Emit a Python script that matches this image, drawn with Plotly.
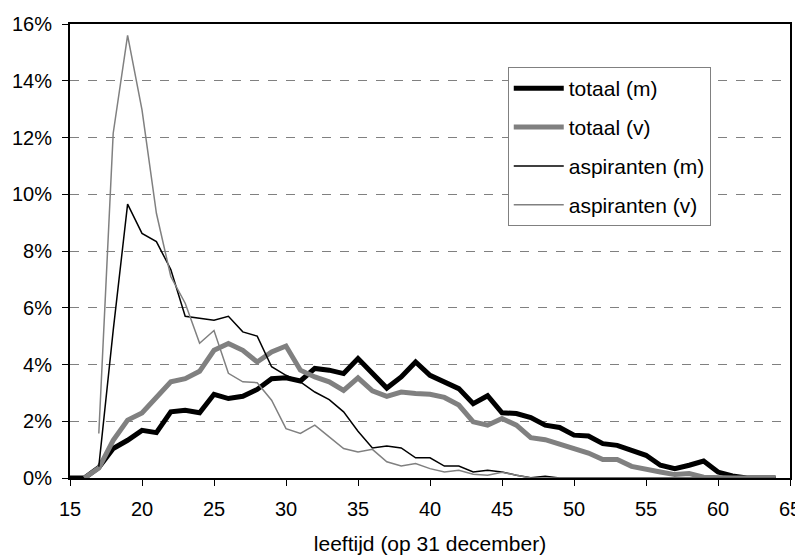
import plotly.graph_objects as go

# leeftijd 15..64
ages = list(range(15, 65))

# aandeel per leeftijd, in %
totaal_m = [0, 0, 0.37, 1.04, 1.33, 1.68, 1.6, 2.33, 2.39, 2.3,
            2.95, 2.8, 2.88, 3.12, 3.5, 3.53, 3.42, 3.86, 3.8, 3.68,
            4.21, 3.68, 3.17, 3.56, 4.09, 3.62, 3.39, 3.15, 2.62, 2.9,
            2.3, 2.27, 2.13, 1.86, 1.78, 1.51, 1.48, 1.21, 1.15, 0.96,
            0.8, 0.45, 0.33, 0.45, 0.6, 0.21, 0.07, 0, 0, 0]
totaal_v = [None, 0, 0.35, 1.33, 2.04, 2.29, 2.86, 3.39, 3.5, 3.76,
            4.5, 4.74, 4.5, 4.09, 4.44, 4.65, 3.8, 3.56, 3.39, 3.09,
            3.53, 3.07, 2.88, 3.03, 2.98, 2.95, 2.84, 2.57, 1.98, 1.86,
            2.1, 1.86, 1.42, 1.35, 1.19, 1.04, 0.88, 0.65, 0.65, 0.41,
            0.33, 0.21, 0.12, 0.16, 0.03, 0, 0, 0, 0, 0]
aspiranten_m = [None, None, 0.4, 5.2, 9.65, 8.62, 8.33, 7.35, 5.7, 5.62,
                5.56, 5.7, 5.15, 5.0, 3.92, 3.62, 3.39, 3.03, 2.76, 2.33,
                1.65, 1.06, 1.13, 1.06, 0.71, 0.71, 0.42, 0.42, 0.21, 0.27,
                0.21, 0.1, 0.01, 0.06, 0, 0, 0, 0, 0, 0,
                0, 0, 0, 0, 0, 0, 0, 0, 0, 0]
aspiranten_v = [None, None, 1.57, 12.15, 15.6, 12.97, 9.33, 7.1, 6.16, 4.75,
                5.2, 3.69, 3.39, 3.36, 2.74, 1.74, 1.57, 1.86, 1.45, 1.04,
                0.92, 1.01, 0.57, 0.42, 0.51, 0.33, 0.21, 0.27, 0.13, 0.1,
                0.2, 0.1, 0, 0, 0, 0, 0, 0, 0, 0,
                0, 0, 0, 0, 0, 0, 0, 0, 0, 0]

font = "Liberation Sans, Arial, sans-serif"

fig = go.Figure()
fig.add_trace(go.Scatter(x=ages, y=totaal_m, name="totaal (m)", mode="lines",
                         line=dict(color="black", width=5), legendgroup="a"))
fig.add_trace(go.Scatter(x=ages, y=totaal_v, name="totaal (v)", mode="lines",
                         line=dict(color="#808080", width=5), legendgroup="b"))
fig.add_trace(go.Scatter(x=ages, y=aspiranten_m, name="aspiranten (m)", mode="lines",
                         line=dict(color="black", width=1.5), legendgroup="c"))
fig.add_trace(go.Scatter(x=ages, y=aspiranten_v, name="aspiranten (v)", mode="lines",
                         line=dict(color="#808080", width=1.5), legendgroup="d"))

# the page body adds an 8px margin, so the figure is 8px smaller
fig.update_layout(
    template="none",
    width=795, height=547,
    margin=dict(l=62, r=13, t=16, b=77),
    paper_bgcolor="white", plot_bgcolor="white",
    font=dict(family=font, size=20, color="black"),
    legend=dict(x=0.608, y=0.905, xanchor="left", yanchor="top",
                bgcolor="white", bordercolor="#808080", borderwidth=1,
                font=dict(family=font, size=21, color="black"),
                itemwidth=50, tracegroupgap=8.5, traceorder="grouped"),
    xaxis=dict(range=[15, 65], dtick=5, tick0=15, showgrid=False,
               showline=True, linecolor="black", linewidth=2, mirror=True,
               ticks="outside", ticklen=6, tickcolor="black",
               tickfont=dict(family=font, size=20, color="black"),
               ticklabelstandoff=6,
               title=dict(text="leeftijd (op 31 december)", standoff=21,
                          font=dict(family=font, size=21, color="black")),
               zeroline=False, automargin=False),
    yaxis=dict(range=[0, 16], dtick=2, ticksuffix="%",
               showgrid=True, gridcolor="#808080", griddash="dash", gridwidth=1,
               showline=True, linecolor="black", linewidth=2, mirror=True,
               ticks="outside", ticklen=6, tickcolor="black",
               tickfont=dict(family=font, size=20, color="black"),
               ticklabelstandoff=6, zeroline=False, automargin=False),
)

fig.write_html("out.html")
